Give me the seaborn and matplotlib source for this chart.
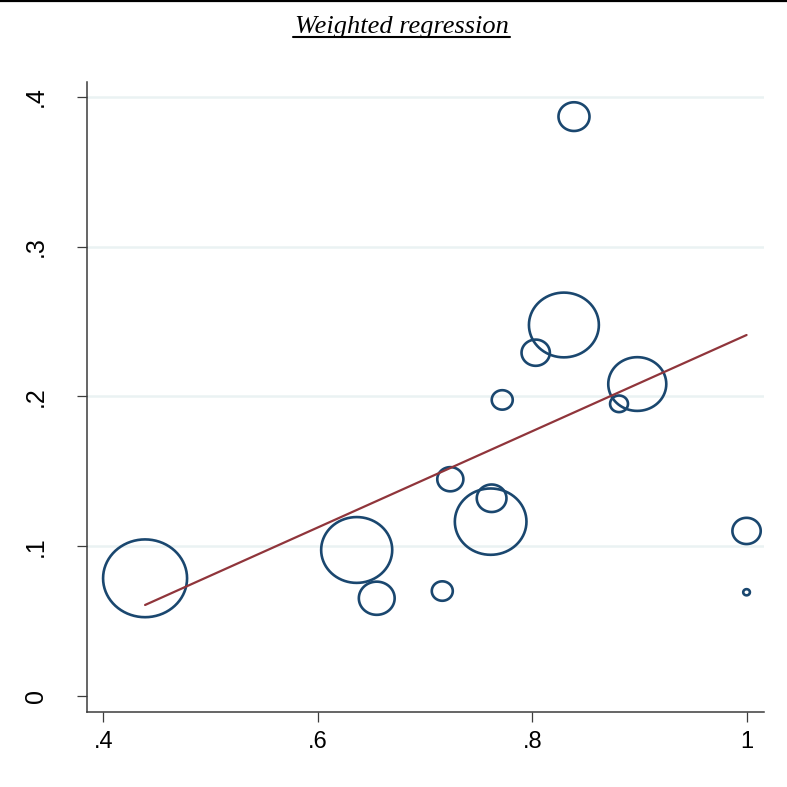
import numpy as np
import pandas as pd
import matplotlib
matplotlib.use("Agg")
import matplotlib.pyplot as plt
import seaborn as sns
from matplotlib.path import Path
from matplotlib.lines import Line2D

# data
share = [0.4389, 0.6362, 0.6549, 0.7160, 0.7235, 0.7620, 0.7611, 0.7719,
         0.8031, 0.8294, 0.8388, 0.8808, 0.8978, 0.9997, 0.9997]
outcome = [0.0787, 0.0976, 0.0654, 0.0702, 0.1448, 0.1321, 0.1165, 0.1977,
           0.2292, 0.2477, 0.3867, 0.1951, 0.2083, 0.1103, 0.0694]
weight = [176, 126, 32, 11, 17, 22, 128, 11, 20, 122, 24, 8, 84, 20, 1.1]

fit_x = [0.4389, 0.9997]
fit_y = [0.0609, 0.2410]

xticks = [0.4, 0.6, 0.8, 1.0]
xtick_labels = [".4", ".6", ".8", "1"]
yticks = [0.0, 0.1, 0.2, 0.3, 0.4]
ytick_labels = ["0", ".1", ".2", ".3", ".4"]

NAVY = "#1a476f"
MAROON = "#90353b"
GRID = "#eaf2f3"
AXIS = "#3c3c3c"

df = pd.DataFrame({"share": share, "outcome": outcome, "weight": weight})
fit = pd.DataFrame({"share": fit_x, "outcome": fit_y})

sns.set_theme(style="white")
plt.rcParams["font.family"] = ["Liberation Sans", "DejaVu Sans"]

fig = plt.figure(figsize=(7.87, 7.87), dpi=100)
ax = fig.add_axes([0.1102, 0.0949, 0.9711 - 0.1102, 0.8962 - 0.0949])

# slightly wide hollow circle, like the reference markers
t = np.linspace(0, 2 * np.pi, 73)
oval = Path(np.column_stack([1.08 * np.cos(t), np.sin(t)]), closed=True)

wmax = max(weight)
smax = (1.44 * 42) ** 2
sns.scatterplot(data=df, x="share", y="outcome", size="weight",
                sizes=(0, smax), size_norm=(0, wmax), marker=oval,
                facecolors="none", edgecolor=NAVY, linewidth=1.9,
                legend=False, ax=ax, zorder=3)
sns.lineplot(data=fit, x="share", y="outcome", color=MAROON, linewidth=1.6,
             ax=ax, zorder=4)

ax.set_xlim(0.3845, 1.0162)
ax.set_ylim(-0.0107, 0.41)
ax.set_xticks(xticks)
ax.set_xticklabels(xtick_labels, fontsize=17)
ax.set_yticks(yticks)
ax.set_yticklabels(ytick_labels, fontsize=18, rotation=90, va="center")
ax.set_xlabel("")
ax.set_ylabel("")

ax.grid(axis="y", color=GRID, linewidth=1.8)
ax.get_ygridlines()[0].set_visible(False)
ax.set_axisbelow(True)

for side in ["top", "right"]:
    ax.spines[side].set_visible(False)
for side in ["left", "bottom"]:
    ax.spines[side].set_color(AXIS)
    ax.spines[side].set_linewidth(1.1)
ax.tick_params(axis="x", length=7.2, width=0.9, color=AXIS, pad=6,
               labelcolor="black", bottom=True)
ax.tick_params(axis="y", length=7.2, width=0.9, color=AXIS, pad=21,
               labelcolor="black", left=True)

title = fig.text(0.511, 1 - 32.7 / 787, "Weighted regression",
                 family="Liberation Serif", style="italic", fontsize=19,
                 ha="center", va="baseline", color="black")

# underline the title
fig.canvas.draw()
bb = title.get_window_extent()
uy = 787 - 36.7
fig.add_artist(Line2D([bb.x0 - 2, bb.x1 + 1], [uy, uy], transform=None,
                      color="black", linewidth=1.5))
# thin rule along the top edge
fig.add_artist(Line2D([0, 1], [0.999, 0.999], transform=fig.transFigure,
                      color="black", linewidth=1.6))

fig.savefig("out.png", dpi=100, facecolor="white")
